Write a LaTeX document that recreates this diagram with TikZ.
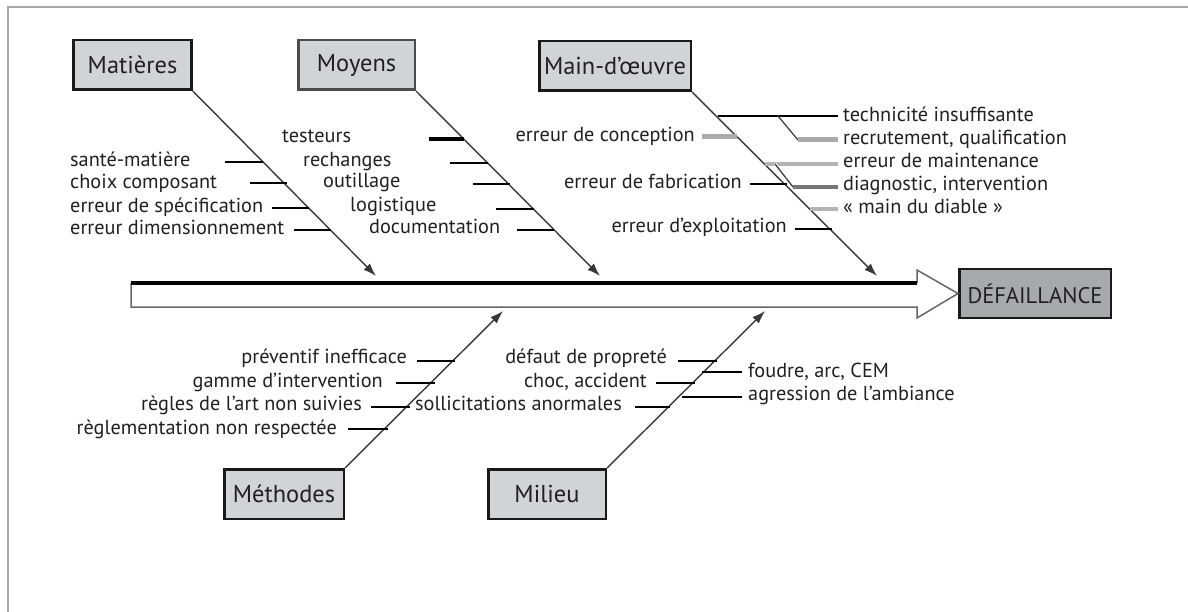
\documentclass[tikz,border=0pt]{standalone}
\usepackage{fontspec}
\setmainfont{PT Sans}
\usetikzlibrary{arrows.meta}
\definecolor{boxfill}{HTML}{D1D3D4}
\definecolor{deffill}{HTML}{A7A9AC}
\definecolor{txt}{HTML}{231F20}
\definecolor{frame}{HTML}{A8A8A8}
\definecolor{greyA}{HTML}{AAAAAA}
\definecolor{greyB}{HTML}{B4B4B4}
\definecolor{greyC}{HTML}{767676}
\newlength\mylen
\newcommand\calibsize[3]{\settowidth\mylen{\fontsize{10pt}{12pt}\selectfont #3}\pgfmathsetmacro#1{10*#2/\mylen}}
\begin{document}
\calibsize\ribsz{214}{erreur dimensionnement}%
\calibsize\boxsz{142}{Main-d’œuvre}%
\calibsize\defsz{135}{DÉFAILLANCE}%
\begin{tikzpicture}[x=1pt,y=-1pt]
\tikzset{
  lbl/.style={font=\fontsize{\ribsz pt}{\ribsz pt}\selectfont, text=txt, inner sep=0pt},
  catbox/.style={draw=black!90, line width=2.5pt, fill=boxfill, inner sep=0pt,
    minimum width=118pt, minimum height=49.5pt, text=txt,
    font=\fontsize{\boxsz pt}{\boxsz pt}\selectfont},
  spine/.style={draw=black!78, line width=1.4pt, -{Latex[length=13pt,width=9pt]}},
  rib/.style={draw=black, line width=1.8pt},
  ribthick/.style={draw=black, line width=3.8pt},
  ribgrey/.style={draw=greyA, line width=5pt},
  riblight/.style={draw=greyB, line width=3.3pt},
  ribdark/.style={draw=greyC, line width=4.5pt},
  subdiag/.style={draw=black!75, line width=1.3pt},
}
\useasboundingbox (0,0) rectangle (1188,612);
% frame
\draw[frame, line width=1.6pt] (8,612) -- (8,7) -- (1188,7);

% category boxes
\node[catbox] (mat) at (132.5,65) {Matières};
\node[catbox, minimum width=116.5pt, draw=black!70] (moy) at (356.5,65) {Moyens};
\node[catbox, minimum width=151.5pt] (mdo) at (615,66) {Main-d’œuvre};
\node[catbox, minimum width=119.5pt] (met) at (284,494) {Méthodes};
\node[catbox, minimum width=117.5pt] (mil) at (547,494) {Milieu};
\node[catbox, minimum width=151.5pt, minimum height=48.5pt, fill=deffill,
  font=\fontsize{\defsz pt}{\defsz pt}\selectfont] (def) at (1035,293.5) {DÉFAILLANCE};

% main arrow
\coordinate (bodyL) at (131,283);
\coordinate (bodyR) at (917,283);
\draw[black!60, line width=1.5pt, line join=miter]
  (bodyL) -- (131,307) -- (917,307) -- (917,318) -- (def.west) -- (917,270) -- (bodyR);
\draw[black, line width=4pt] (bodyL) -- (bodyR);

% spines
\coordinate (matT) at (376,276);
\coordinate (moyT) at (600,276);
\coordinate (mdoT) at (877,276);
\coordinate (metT) at (503,311);
\coordinate (milT) at (765,311);
\draw[spine] (mat.south east) -- (matT);
\draw[spine] (moy.south east) -- (moyT);
\draw[spine] (mdo.south east) -- (mdoT);
\draw[spine] (met.north east) -- (metT);
\draw[spine] (mil.north east) -- (milT);

% Matières
\node[lbl, anchor=base west] (ma1) at (70,167) {santé-matière};
\node[lbl, anchor=base west] (ma2) at (70,189) {choix composant};
\node[lbl, anchor=base west] (ma3) at (70,213) {erreur de spécification};
\node[lbl, anchor=base west] (ma4) at (70,235) {erreur dimensionnement};
\draw[rib] (225,162) coordinate (ma1a) -- (263,162) coordinate (ma1b);
\draw[rib] (250,183) coordinate (ma2a) -- (287,183) coordinate (ma2b);
\draw[rib] (272,208) coordinate (ma3a) -- (309,208) coordinate (ma3b);
\draw[rib] (294,230) coordinate (ma4a) -- (331,230) coordinate (ma4b);

% Moyens
\node[lbl, anchor=base west] (mo1) at (282,143) {testeurs};
\node[lbl, anchor=base west] (mo2) at (303,167) {rechanges};
\node[lbl, anchor=base west] (mo3) at (323,188) {outillage};
\node[lbl, anchor=base west] (mo4) at (350,212) {logistique};
\node[lbl, anchor=base west] (mo5) at (369,234) {documentation};
\draw[ribthick] (429,139) coordinate (mo1a) -- (464,139) coordinate (mo1b);
\draw[rib] (450,163) coordinate (mo2a) -- (488,163) coordinate (mo2b);
\draw[rib] (473,184) coordinate (mo3a) -- (510,184) coordinate (mo3b);
\draw[rib] (496,209) coordinate (mo4a) -- (534,209) coordinate (mo4b);
\draw[rib] (517,230) coordinate (mo5a) -- (554,230) coordinate (mo5b);

% Main-d'oeuvre, left
\node[lbl, anchor=base east] (md1) at (695,142) {erreur de conception};
\node[lbl, anchor=base east] (md2) at (742,189) {erreur de fabrication};
\node[lbl, anchor=base east] (md3) at (787,233) {erreur d’exploitation};
\draw[ribgrey] (702,137) coordinate (md1a) -- (737,137) coordinate (md1b);
\draw[rib] (750,184) coordinate (md2a) -- (787,184) coordinate (md2b);
\draw[rib] (795,229) coordinate (md3a) -- (832,229) coordinate (md3b);
% Main-d'oeuvre, right
\node[lbl, anchor=base west] (mr1) at (843,122) {technicité insuffisante};
\node[lbl, anchor=base west] (mr2) at (843,145) {recrutement, qualification};
\node[lbl, anchor=base west] (mr3) at (843,168) {erreur de maintenance};
\node[lbl, anchor=base west] (mr4) at (843,191) {diagnostic, intervention};
\node[lbl, anchor=base west] (mr5) at (843,214) {« main du diable »};
\draw[rib] (718,116) coordinate (mr1a) -- (838,116) coordinate (mr1b);
\coordinate (mr2s) at (778,116);
\draw[subdiag] (mr2s) -- (798,140) coordinate (mr2a);
\draw[ribgrey] (mr2a) -- (838,140) coordinate (mr2b);
\draw[riblight] (765,164) coordinate (mr3a) -- (838,164) coordinate (mr3b);
\coordinate (mr4s) at (775,164);
\draw[white, line width=3pt] (mr4s) -- (793,187);
\draw[subdiag] (mr4s) -- (793,187) coordinate (mr4a);
\draw[ribdark] (mr4a) -- (838,187) coordinate (mr4b);
\draw[riblight, line width=3.8pt] (810,209) coordinate (mr5a) -- (838,209) coordinate (mr5b);

% Méthodes
\node[lbl, anchor=base east] (me1) at (407,363) {préventif inefficace};
\node[lbl, anchor=base east] (me2) at (383,387) {gamme d’intervention};
\node[lbl, anchor=base east] (me3) at (362,410) {règles de l’art non suivies};
\node[lbl, anchor=base east] (me4) at (337,434) {règlementation non respectée};
\draw[rib] (417,361) coordinate (me1a) -- (455,361) coordinate (me1b);
\draw[rib] (396,383) coordinate (me2a) -- (435,383) coordinate (me2b);
\draw[rib] (371,407) coordinate (me3a) -- (410,407) coordinate (me3b);
\draw[rib] (348,429) coordinate (me4a) -- (388,429) coordinate (me4b);

% Milieu
\node[lbl, anchor=base east] (mi1) at (667,363) {défaut de propreté};
\node[lbl, anchor=base east] (mi2) at (647,387) {choc, accident};
\node[lbl, anchor=base east] (mi3) at (622,410) {sollicitations anormales};
\node[lbl, anchor=base west] (mi4) at (748,377) {foudre, arc, CEM};
\node[lbl, anchor=base west] (mi5) at (748,400) {agression de l’ambiance};
\draw[rib] (678,361) coordinate (mi1a) -- (717,361) coordinate (mi1b);
\draw[rib] (656,383) coordinate (mi2a) -- (695,383) coordinate (mi2b);
\draw[rib] (635,407) coordinate (mi3a) -- (670,407) coordinate (mi3b);
\draw[rib] (702,372) coordinate (mi4a) -- (742,372) coordinate (mi4b);
\draw[rib] (682,397) coordinate (mi5a) -- (742,397) coordinate (mi5b);
\end{tikzpicture}
\end{document}
